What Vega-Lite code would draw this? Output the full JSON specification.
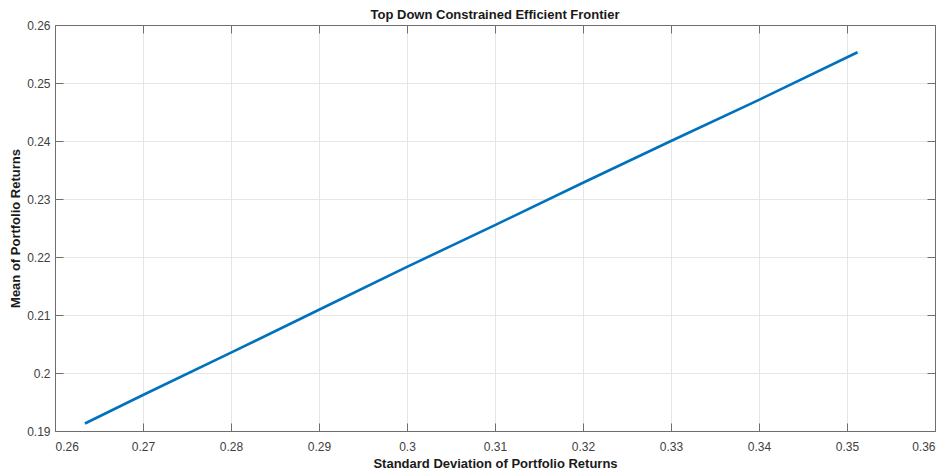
{
  "$schema": "https://vega.github.io/schema/vega-lite/v6.json",
  "width": 880,
  "height": 406,
  "autosize": {"type": "none"},
  "padding": {"left": 55, "top": 25, "right": 16, "bottom": 41},
  "background": "white",
  "title": {
    "text": "Top Down Constrained Efficient Frontier",
    "font": "Liberation Sans",
    "fontSize": 13,
    "fontWeight": "bold",
    "color": "#1a1a1a",
    "anchor": "middle",
    "offset": -3
  },
  "data": {
    "values": [
      {"sd": 0.2634, "mean": 0.1913},
      {"sd": 0.27, "mean": 0.1962},
      {"sd": 0.28, "mean": 0.2035},
      {"sd": 0.29, "mean": 0.2109},
      {"sd": 0.30, "mean": 0.2183},
      {"sd": 0.31, "mean": 0.2255},
      {"sd": 0.32, "mean": 0.2328},
      {"sd": 0.33, "mean": 0.2400},
      {"sd": 0.34, "mean": 0.2471},
      {"sd": 0.3512, "mean": 0.2553}
    ]
  },
  "layer": [
    {
      "mark": {"type": "line", "color": "#0072BD", "strokeWidth": 2.6, "strokeCap": "butt"},
      "encoding": {
        "x": {
          "field": "sd", "type": "quantitative",
          "scale": {"domain": [0.26, 0.36], "nice": false, "zero": false},
          "axis": {
            "orient": "bottom",
            "title": "Standard Deviation of Portfolio Returns",
            "values": [0.26, 0.27, 0.28, 0.29, 0.3, 0.31, 0.32, 0.33, 0.34, 0.35, 0.36],
            "format": "~g",
            "grid": true,
            "tickSize": -8,
            "labelPadding": 18,
            "titlePadding": 5
          }
        },
        "y": {
          "field": "mean", "type": "quantitative",
          "scale": {"domain": [0.19, 0.26], "nice": false, "zero": false},
          "axis": {
            "orient": "left",
            "title": "Mean of Portfolio Returns",
            "values": [0.19, 0.2, 0.21, 0.22, 0.23, 0.24, 0.25, 0.26],
            "format": "~g",
            "grid": true,
            "tickSize": -8,
            "labelPadding": 13,
            "titlePadding": 4
          }
        }
      }
    },
    {
      "mark": {"type": "point", "opacity": 0},
      "encoding": {
        "x": {
          "field": "sd", "type": "quantitative",
          "scale": {"domain": [0.26, 0.36], "nice": false, "zero": false},
          "axis": {
            "orient": "top",
            "title": null,
            "labels": false,
            "grid": false,
            "values": [0.26, 0.27, 0.28, 0.29, 0.3, 0.31, 0.32, 0.33, 0.34, 0.35, 0.36],
            "tickSize": -8
          }
        },
        "y": {
          "field": "mean", "type": "quantitative",
          "scale": {"domain": [0.19, 0.26], "nice": false, "zero": false},
          "axis": {
            "orient": "right",
            "title": null,
            "labels": false,
            "grid": false,
            "values": [0.19, 0.2, 0.21, 0.22, 0.23, 0.24, 0.25, 0.26],
            "tickSize": -8
          }
        }
      }
    }
  ],
  "resolve": {"axis": {"x": "independent", "y": "independent"}},
  "config": {
    "view": {"stroke": "#7f7f7f", "strokeWidth": 1},
    "axis": {
      "domainColor": "#6e6e6e",
      "domainWidth": 1,
      "tickColor": "#6e6e6e",
      "tickWidth": 1,
      "gridColor": "#e6e6e6",
      "gridWidth": 1,
      "labelFont": "Liberation Sans",
      "labelFontSize": 12,
      "labelColor": "#404040",
      "titleFont": "Liberation Sans",
      "titleFontSize": 13,
      "titleFontWeight": "bold",
      "titleColor": "#1a1a1a"
    }
  }
}
